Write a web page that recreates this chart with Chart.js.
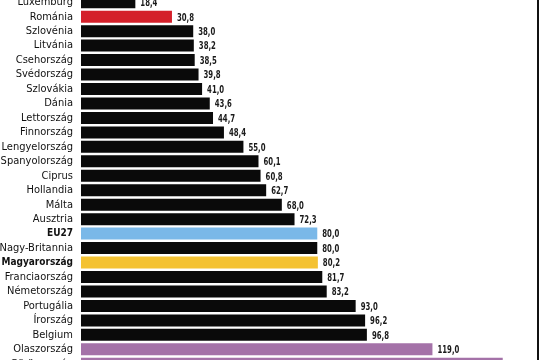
<!DOCTYPE html>
<html>
<head>
<meta charset="utf-8">
<script src="https://cdn.jsdelivr.net/npm/chart.js@4"></script>
<style>
  html, body { margin: 0; padding: 0; background: #fff; overflow: hidden; }
  #wrap { position: absolute; left: 0; top: -5px; width: 540px; height: 376px; }
</style>
</head>
<body>
<div id="wrap"><canvas id="debtChart" width="540" height="376"></canvas></div>
<script>
// Államadósság a GDP %-ában (2010) – a kép csak egy részletet mutat
const countries = ["Luxemburg", "Románia", "Szlovénia", "Litvánia", "Csehország", "Svédország",
  "Szlovákia", "Dánia", "Lettország", "Finnország", "Lengyelország", "Spanyolország", "Ciprus",
  "Hollandia", "Málta", "Ausztria", "EU27", "Nagy-Britannia", "Magyarország", "Franciaország",
  "Németország", "Portugália", "Írország", "Belgium", "Olaszország", "Görögország"];
const debt = [18.4, 30.8, 38.0, 38.2, 38.5, 39.8, 41.0, 43.6, 44.7, 48.4, 55.0, 60.1, 60.8,
  62.7, 68.0, 72.3, 80.0, 80.0, 80.2, 81.7, 83.2, 93.0, 96.2, 96.8, 119.0, 142.8];
const boldLabels = ["EU27", "Magyarország"];

const FONT = "'DejaVu Sans Condensed', 'Liberation Sans', sans-serif";

function barColor(name) {
  if (name === "Románia") return "#d4202a";
  if (name === "EU27") return "#7ab8e8";
  if (name === "Magyarország") return "#f4c232";
  if (name === "Olaszország" || name === "Görögország") return "#a472a8";
  return "#0a0a0a";
}

// értékek a sávok végén (keskenyített betűvel)
const valueLabels = {
  id: 'valueLabels',
  afterDatasetsDraw(chart) {
    const ctx = chart.ctx;
    const meta = chart.getDatasetMeta(0);
    meta.data.forEach((bar, i) => {
      ctx.save();
      ctx.translate(bar.x + 5, bar.y + 1);
      ctx.scale(0.7, 1);
      ctx.font = "bold 11px " + FONT;
      ctx.fillStyle = "#1a1a1a";
      ctx.textAlign = "left";
      ctx.textBaseline = "middle";
      ctx.fillText(debt[i].toFixed(1).replace('.', ','), 0, 0);
      ctx.restore();
    });
  }
};

// keret jobb oldalt
const rightRule = {
  id: 'rightRule',
  afterDraw(chart) {
    const ctx = chart.ctx;
    ctx.save();
    ctx.strokeStyle = "#111";
    ctx.lineWidth = 2;
    ctx.beginPath();
    ctx.moveTo(538, 0);
    ctx.lineTo(538, chart.height);
    ctx.stroke();
    ctx.restore();
  }
};

new Chart(document.getElementById("debtChart"), {
  type: 'bar',
  data: {
    labels: countries,
    datasets: [{
      data: debt,
      backgroundColor: countries.map(barColor),
      barPercentage: 0.83,
      categoryPercentage: 1
    }]
  },
  options: {
    indexAxis: 'y',
    responsive: false,
    animation: false,
    layout: { padding: { left: 0, right: 16, top: 0, bottom: 0 } },
    plugins: { legend: { display: false }, tooltip: { enabled: false } },
    scales: {
      x: { display: false, min: 0, max: 150 },
      y: {
        border: { display: false },
        grid: { display: false, drawTicks: false },
        afterFit(scale) {
          scale.width = 81;
          scale.paddingTop = 0;
          scale.paddingBottom = 0;
        },
        ticks: {
          padding: 8,
          color: "#111",
          autoSkip: false,
          font: (c) => ({
            family: FONT,
            size: boldLabels.includes(countries[c.index]) ? 10 : 11,
            weight: boldLabels.includes(countries[c.index]) ? 'bold' : 'normal'
          })
        }
      }
    }
  },
  plugins: [valueLabels, rightRule]
});
</script>
</body>
</html>
